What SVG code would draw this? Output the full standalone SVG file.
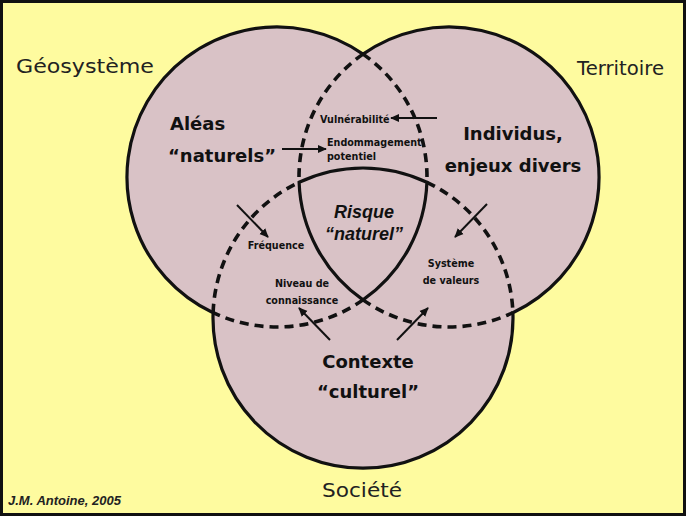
<svg xmlns="http://www.w3.org/2000/svg" width="687" height="517" viewBox="0 0 687 517">
<defs>
<marker id="ah" viewBox="0 0 10 10" refX="9" refY="5" markerWidth="4.5" markerHeight="4.5" orient="auto" markerUnits="strokeWidth">
<path d="M0,0.5 L10,5 L0,9.5 Z" fill="#111"/>
</marker>
</defs>
<style>
.bg{fill:#fefb9f;stroke:#111;stroke-width:3}
.solid{fill:none;stroke:#111;stroke-width:3.2}
.dash{fill:none;stroke:#111;stroke-width:3.6;stroke-dasharray:9 6}
.arr{fill:none;stroke:#111;stroke-width:2;marker-end:url(#ah)}
.out{font-family:"DejaVu Sans",sans-serif;font-size:19.5px;fill:#222}
.big{font-family:"DejaVu Sans",sans-serif;font-weight:bold;font-size:18px;fill:#111}
.sm{font-family:"DejaVu Sans",sans-serif;font-weight:bold;font-size:9.6px;fill:#111}
.risk{font-family:"Liberation Sans",Arial,sans-serif;font-weight:bold;font-style:italic;font-size:18px;fill:#111}
.cred{font-family:"Liberation Sans",Arial,sans-serif;font-weight:bold;font-style:italic;font-size:13px;fill:#222}
</style>
<rect class="bg" x="1.5" y="1.5" width="683" height="513"/>

<g id="union">
<path d="M363,54.1 A150,150 0 1 0 213.1,312.7 A150,150 0 1 0 512.9,312.7 A150,150 0 1 0 363,54.1 Z" fill="#d9c2c6" stroke="#111" stroke-width="3.2"/>
</g>

<g id="risque-zone">
<path class="solid" d="M299.1,182.3 A150,150 0 0 1 426.9,182.3 A150,150 0 0 1 363,299.9 A150,150 0 0 1 299.1,182.3 Z"/>
</g>

<g id="dashed-arcs">
<path class="dash" d="M363,54.1 A150,150 0 0 1 426.9,182.3"/>
<path class="dash" d="M363,299.9 A150,150 0 0 1 213.1,312.7"/>
<path class="dash" d="M363,54.1 A150,150 0 0 0 299.1,182.3"/>
<path class="dash" d="M363,299.9 A150,150 0 0 0 512.9,312.7"/>
<path class="dash" d="M213.1,312.7 A150,150 0 0 1 299.1,182.3"/>
<path class="dash" d="M426.9,182.3 A150,150 0 0 1 512.9,312.7"/>
</g>

<g id="geosysteme">
<text class="out" x="16" y="73" textLength="138" lengthAdjust="spacingAndGlyphs">Géosystème</text>
<text class="big" x="170" y="130">Aléas</text>
<text class="big" x="168" y="162">“naturels”</text>
</g>

<g id="territoire">
<text class="out" x="577" y="75" textLength="87" lengthAdjust="spacingAndGlyphs">Territoire</text>
<text class="big" x="513" y="140" text-anchor="middle">Individus,</text>
<text class="big" x="513" y="172" text-anchor="middle">enjeux divers</text>
</g>

<g id="societe">
<text class="out" x="322" y="497" textLength="80" lengthAdjust="spacingAndGlyphs">Société</text>
<text class="big" x="368" y="368" text-anchor="middle" font-size="19">Contexte</text>
<text class="big" x="368" y="398" text-anchor="middle" font-size="19">“culturel”</text>
</g>

<g id="risque">
<text class="risk" x="364" y="218" text-anchor="middle">Risque</text>
<text class="risk" x="364" y="240" text-anchor="middle">“naturel”</text>
</g>

<g id="vulnerabilite">
<text class="sm" x="320" y="123">Vulnérabilité</text>
</g>
<g id="endommagement">
<text class="sm" x="327" y="146">Endommagement</text>
<text class="sm" x="327" y="160">potentiel</text>
</g>
<g id="frequence">
<text class="sm" x="276" y="249" text-anchor="middle">Fréquence</text>
</g>
<g id="niveau">
<text class="sm" x="302" y="287" text-anchor="middle">Niveau de</text>
<text class="sm" x="302" y="304" text-anchor="middle">connaissance</text>
</g>
<g id="systeme">
<text class="sm" x="451" y="267" text-anchor="middle">Système</text>
<text class="sm" x="451" y="284" text-anchor="middle">de valeurs</text>
</g>

<g id="connectors">
<line class="arr" x1="437" y1="118" x2="391" y2="118"/>
<line class="arr" x1="282" y1="149" x2="326" y2="149"/>
<line class="arr" x1="237" y1="205" x2="268" y2="237"/>
<line class="arr" x1="487" y1="204" x2="455" y2="237"/>
<line class="arr" x1="330" y1="340" x2="299" y2="308"/>
<line class="arr" x1="397" y1="340" x2="428" y2="308"/>
</g>

<text class="cred" x="8" y="505">J.M. Antoine, 2005</text>
</svg>
